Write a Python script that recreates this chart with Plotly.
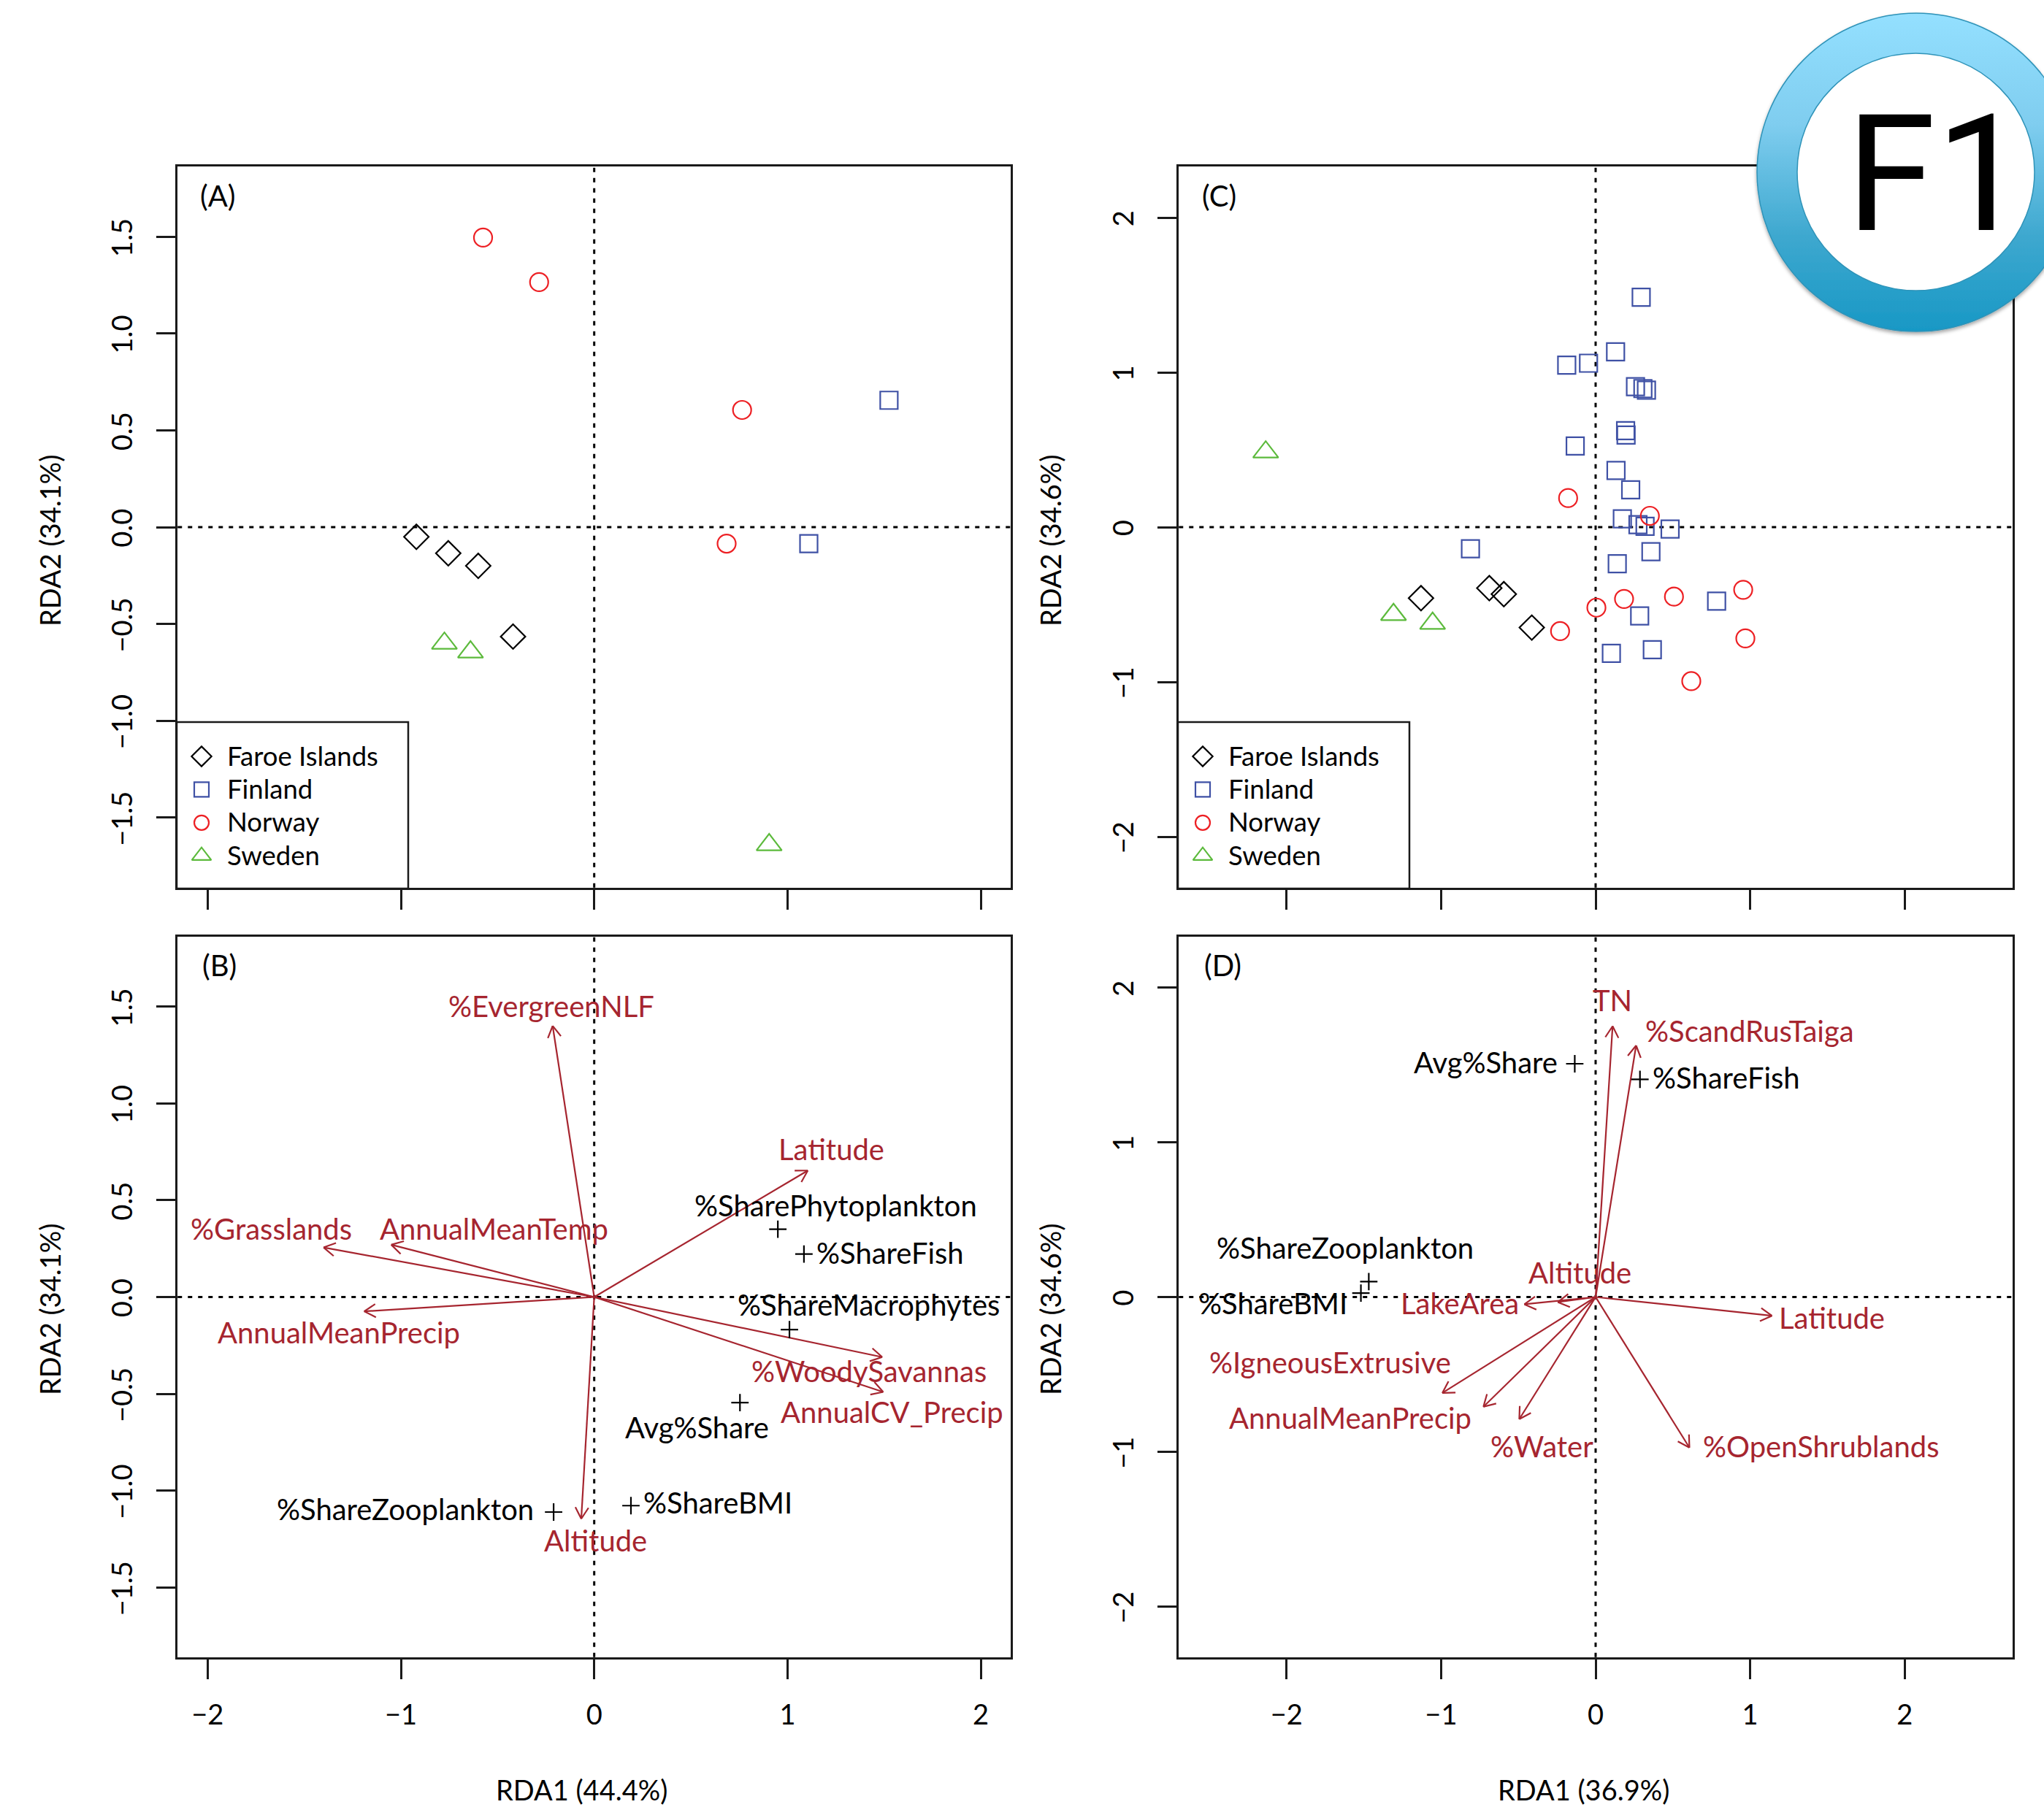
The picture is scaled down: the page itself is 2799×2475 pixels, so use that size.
import base64
import numpy as np
import plotly.graph_objects as go

# ---------- data ----------
A_faroe_x = [-0.92, -0.755, -0.60, -0.42]
A_faroe_y = [-0.05, -0.135, -0.20, -0.565]
A_finland_x = [1.525, 1.11]
A_finland_y = [0.655, -0.085]
A_norway_x = [-0.575, -0.285, 0.765, 0.685]
A_norway_y = [1.495, 1.265, 0.605, -0.085]
A_sweden_x = [-0.775, -0.64, 0.905]
A_sweden_y = [-0.60, -0.645, -1.64]

C_faroe_x = [-1.13, -0.688, -0.594, -0.413]
C_faroe_y = [-0.459, -0.394, -0.433, -0.649]
C_finland_x = [0.295, 0.129, -0.187, -0.046, 0.258, 0.306, 0.329, 0.194, 0.197, -0.132, 0.132, 0.227,
               0.173, 0.274, 0.320, 0.482, -0.81, 0.358, 0.14, 0.285, 0.783, 0.102, 0.367]
C_finland_y = [1.485, 1.133, 1.047, 1.059, 0.907, 0.895, 0.885, 0.623, 0.595, 0.524, 0.366, 0.241,
               0.054, 0.016, 0.005, -0.012, -0.14, -0.159, -0.236, -0.574, -0.478, -0.815, -0.792]
C_norway_x = [-0.178, 0.351, 0.184, 0.005, 0.507, 0.955, 0.969, -0.23, 0.619]
C_norway_y = [0.188, 0.073, -0.464, -0.52, -0.449, -0.405, -0.719, -0.672, -0.995]
C_sweden_x = [-2.135, -1.308, -1.055]
C_sweden_y = [0.485, -0.565, -0.622]

B_arrow_tip_x = [-0.215, 1.105, -1.40, -1.05, -1.19, 1.49, 1.495, -0.067]
B_arrow_tip_y = [1.40, 0.653, 0.256, 0.27, -0.074, -0.31, -0.49, -1.145]
B_red_names = ["%EvergreenNLF", "Latitude", "%Grasslands", "AnnualMeanTemp", "AnnualMeanPrecip",
               "%WoodySavannas", "AnnualCV_Precip", "Altitude"]
B_red_label_x = [-0.222, 1.226, -1.67, -0.518, -1.32, 1.42, 1.54, 0.007]
B_red_label_y = [1.495, 0.754, 0.343, 0.343, -0.189, -0.39, -0.60, -1.266]
B_plus_x = [0.95, 1.085, 1.01, 0.754, -0.21, 0.19]
B_plus_y = [0.35, 0.222, -0.168, -0.545, -1.11, -1.077]
B_black_names = ["%SharePhytoplankton", "%ShareFish", "%ShareMacrophytes", "Avg%Share",
                 "%ShareZooplankton", "%ShareBMI"]
B_black_label_x = [1.25, 1.53, 1.42, 0.532, -0.976, 0.64]
B_black_label_y = [0.465, 0.222, -0.047, -0.68, -1.104, -1.07]

D_arrow_tip_x = [0.11, 0.262, -0.245, -0.461, 1.141, -0.992, -0.726, -0.494, 0.607]
D_arrow_tip_y = [1.75, 1.625, -0.033, -0.047, -0.121, -0.62, -0.709, -0.789, -0.973]
D_red_names = ["TN", "%ScandRusTaiga", "Altitude", "LakeArea", "Latitude", "%IgneousExtrusive",
               "AnnualMeanPrecip", "%Water", "%OpenShrublands"]
D_red_label_x = [0.11, 0.996, -0.10, -0.878, 1.527, -1.72, -1.586, -0.346, 1.46]
D_red_label_y = [1.91, 1.709, 0.15, -0.05, -0.143, -0.43, -0.79, -0.976, -0.976]
D_plus_x = [0.287, -0.135, -1.468, -1.519]
D_plus_y = [1.406, 1.507, 0.10, 0.025]
D_black_names = ["%ShareFish", "Avg%Share", "%ShareZooplankton", "%ShareBMI"]
D_black_label_x = [0.844, -0.709, -1.62, -2.09]
D_black_label_y = [1.406, 1.507, 0.31, -0.05]

groups = ["Faroe Islands", "Finland", "Norway", "Sweden"]
x_title_A, x_title_C = "RDA1 (44.4%)", "RDA1 (36.9%)"
y_title_A, y_title_C = "RDA2 (34.1%)", "RDA2 (34.6%)"

# ---------- layout constants (page pixels) ----------
W, H = 2799, 2475
FONT = "Lato"
FS = 36.5
LABEL_FS = 40
AXIS_FS = 38
INK = "#1a1a1a"
LW = 2.5
DARKRED = "#A6252F"
COL = {"Faroe Islands": "#000000", "Finland": "#3F51A5", "Norway": "#ED2024", "Sweden": "#5CBA3C"}
SYM = {"Faroe Islands": "diamond-open", "Finland": "square-open", "Norway": "circle-open", "Sweden": "triangle-up-open"}
SIZE = {"Faroe Islands": 26, "Finland": 24, "Norway": 25, "Sweden": 30}
LEG_SIZE = {"Faroe Islands": 21, "Finland": 20, "Norway": 20, "Sweden": 23}


def px(p):
    return p / W


def py(p):
    return 1 - p / H


P = {
    "A": dict(ax="", l=242, r=1385, t=227, b=1217, x0=813.7, y0=722, sx=264.7, sy=265.3),
    "C": dict(ax="2", l=1613, r=2757, t=227, b=1217, x0=2185, y0=722, sx=211.6, sy=212),
    "B": dict(ax="3", l=242, r=1385, t=1282, b=2271, x0=813.7, y0=1776.5, sx=264.7, sy=265.3),
    "D": dict(ax="4", l=1613, r=2757, t=1282, b=2271, x0=2185, y0=1776.5, sx=211.6, sy=212),
}
# plotly draws axis lines just outside the plot area, so the plot area sits half a line inside the box
for p in P.values():
    p["l"] += LW / 2
    p["r"] -= LW / 2
    p["t"] += LW / 2
    p["b"] -= LW / 2

fig = go.Figure()
shapes, annotations = [], []


def ref(k):
    return dict(xaxis="x" + P[k]["ax"], yaxis="y" + P[k]["ax"])


def label(k, txt, x, y, color):
    annotations.append(dict(text=txt, x=x, y=y, xref="x" + P[k]["ax"], yref="y" + P[k]["ax"], showarrow=False,
                            xanchor="center", yanchor="middle", yshift=2,
                            font=dict(family=FONT, size=LABEL_FS, color=color)))


def page_text(txt, x, y, size=FS, angle=0, family=FONT, color="#000000", xanchor="center"):
    annotations.append(dict(text=txt, x=px(x), y=py(y), xref="paper", yref="paper", showarrow=False, textangle=angle,
                            xanchor=xanchor, yanchor="middle", font=dict(family=family, size=size, color=color)))


def zero_lines(k):
    p = P[k]
    xr, yr = "x" + p["ax"], "y" + p["ax"]
    st = dict(color="#000000", width=3, dash="6px,8px")
    shapes.append(dict(type="line", xref=xr, yref=yr + " domain", x0=0, x1=0, y0=0, y1=1, line=st, layer="below"))
    shapes.append(dict(type="line", xref=xr + " domain", yref=yr, x0=0, x1=1, y0=0, y1=0, line=st, layer="below"))


def points(k, name, xs, ys):
    fig.add_trace(go.Scatter(x=xs, y=ys, mode="markers", name=name, showlegend=False, **ref(k),
                             marker=dict(symbol=SYM[name], size=SIZE[name], color=COL[name],
                                         line=dict(width=2.2, color=COL[name]))))


def legend_block(k):
    p = P[k]
    left, top, right, bottom = p["l"] - LW / 2, 989, p["l"] - LW / 2 + 317, 1217
    shapes.append(dict(type="rect", xref="paper", yref="paper", x0=px(left), x1=px(right), y0=py(bottom), y1=py(top),
                       line=dict(color=INK, width=2.5), fillcolor="rgba(0,0,0,0)"))
    for i, g in enumerate(groups):
        yp = 1036 + i * 45.4
        fig.add_trace(go.Scatter(x=[(left + 34 - p["x0"]) / p["sx"]], y=[(p["y0"] - yp) / p["sy"]], mode="markers",
                                 name=g, showlegend=False, **ref(k),
                                 marker=dict(symbol=SYM[g], size=LEG_SIZE[g], color=COL[g],
                                             line=dict(width=2.2, color=COL[g]))))
        page_text(g, left + 67, yp - 1.5, xanchor="left")


def arrows(k, tip_x, tip_y):
    p = P[k]
    xs, ys = [], []
    for tx, ty in zip(tip_x, tip_y):
        xs += [0, tx, None]
        ys += [0, ty, None]
        ang = np.arctan2(ty * p["sy"], tx * p["sx"])
        for d in (-np.pi / 6, np.pi / 6):
            hx = tx - 18 * np.cos(ang + d) / p["sx"]
            hy = ty - 18 * np.sin(ang + d) / p["sy"]
            xs += [hx, tx, None]
            ys += [hy, ty, None]
    fig.add_trace(go.Scatter(x=xs, y=ys, mode="lines", showlegend=False, name="environment", **ref(k),
                             line=dict(color=DARKRED, width=2.2), connectgaps=False))


def pluses(k, xs, ys):
    fig.add_trace(go.Scatter(x=xs, y=ys, mode="markers", showlegend=False, name="response", **ref(k),
                             marker=dict(symbol="cross-thin-open", size=17, color="#000000",
                                         line=dict(width=2.2, color="#000000"))))


for k in "ACBD":
    zero_lines(k)

for k, data in (("A", [(A_faroe_x, A_faroe_y), (A_finland_x, A_finland_y), (A_norway_x, A_norway_y), (A_sweden_x, A_sweden_y)]),
                ("C", [(C_faroe_x, C_faroe_y), (C_finland_x, C_finland_y), (C_norway_x, C_norway_y), (C_sweden_x, C_sweden_y)])):
    for g, (xs, ys) in zip(groups, data):
        points(k, g, xs, ys)
    legend_block(k)

arrows("B", B_arrow_tip_x, B_arrow_tip_y)
pluses("B", B_plus_x, B_plus_y)
arrows("D", D_arrow_tip_x, D_arrow_tip_y)
pluses("D", D_plus_x, D_plus_y)

for n, x, y in zip(B_red_names, B_red_label_x, B_red_label_y):
    label("B", n, x, y, DARKRED)
for n, x, y in zip(B_black_names, B_black_label_x, B_black_label_y):
    label("B", n, x, y, "#000000")
for n, x, y in zip(D_red_names, D_red_label_x, D_red_label_y):
    label("D", n, x, y, DARKRED)
for n, x, y in zip(D_black_names, D_black_label_x, D_black_label_y):
    label("D", n, x, y, "#000000")

# panel tags and axis titles
page_text("(A)", 298, 268, size=LABEL_FS)
page_text("(C)", 1669, 268, size=LABEL_FS)
page_text("(B)", 300, 1322, size=LABEL_FS)
page_text("(D)", 1674, 1322, size=LABEL_FS)
page_text(y_title_A, 68, 741, size=AXIS_FS, angle=-90)
page_text(y_title_C, 1438, 741, size=AXIS_FS, angle=-90)
page_text(y_title_A, 68, 1794, size=AXIS_FS, angle=-90)
page_text(y_title_C, 1438, 1794, size=AXIS_FS, angle=-90)
page_text(x_title_A, 796, 2451, size=AXIS_FS)
page_text(x_title_C, 2168, 2451, size=AXIS_FS)

layout_axes = {}
for k, p in P.items():
    bottom_row = k in "BD"
    x_range = [(p["l"] - p["x0"]) / p["sx"], (p["r"] - p["x0"]) / p["sx"]]
    y_range = [(p["y0"] - p["b"]) / p["sy"], (p["y0"] - p["t"]) / p["sy"]]
    common = dict(showline=True, mirror=True, linecolor=INK, linewidth=LW, ticks="outside", ticklen=27, tickwidth=2.5,
                  tickcolor=INK, showgrid=False, zeroline=False, fixedrange=True,
                  tickfont=dict(family=FONT, size=AXIS_FS, color="#000000"))
    layout_axes["xaxis" + p["ax"]] = dict(common, domain=[px(p["l"]), px(p["r"])], range=x_range, tickmode="array",
                                          tickvals=[-2, -1, 0, 1, 2], ticktext=["\u22122", "\u22121", "0", "1", "2"],
                                          showticklabels=bottom_row, anchor="y" + p["ax"], ticklabelstandoff=17)
    if k in "AB":
        yv = [-1.5, -1.0, -0.5, 0.0, 0.5, 1.0, 1.5]
        yt = ["\u22121.5", "\u22121.0", "\u22120.5", "0.0", "0.5", "1.0", "1.5"]
    else:
        yv = [-2, -1, 0, 1, 2]
        yt = ["\u22122", "\u22121", "0", "1", "2"]
    layout_axes["yaxis" + p["ax"]] = dict(common, domain=[py(p["b"]), py(p["t"])], range=y_range, tickmode="array",
                                          tickvals=yv, ticktext=yt, tickangle=-90, anchor="x" + p["ax"],
                                          ticklabelstandoff=17, ticklabelshift=7)

# F1 badge
svg = """<svg xmlns='http://www.w3.org/2000/svg' width='500' height='480' viewBox='2350 0 500 480'>
<defs><linearGradient id='g' x1='0' y1='0' x2='0' y2='1'>
<stop offset='0' stop-color='#94E0FF'/><stop offset='0.35' stop-color='#7FCDEF'/>
<stop offset='0.7' stop-color='#3EA8CF'/><stop offset='1' stop-color='#1898C5'/></linearGradient>
<filter id='s' x='-10%' y='-10%' width='120%' height='120%'><feDropShadow dx='0' dy='3' stdDeviation='2.5' flood-color='#000' flood-opacity='0.35'/></filter></defs>
<circle cx='2624' cy='236' r='218' fill='url(#g)' stroke='#2F93B8' stroke-width='1.5' filter='url(#s)'/>
<circle cx='2623.5' cy='235.5' r='162.5' fill='#FFFFFF' stroke='#2F93B8' stroke-width='1.5'/>
</svg>"""
badge = "data:image/svg+xml;base64," + base64.b64encode(svg.encode()).decode()
images = [dict(source=badge, xref="paper", yref="paper", x=px(2350), y=py(0), sizex=500 / W, sizey=480 / H,
               xanchor="left", yanchor="top", sizing="stretch", layer="above")]
page_text("F1", 2651, 239, size=222, family="Roboto")

fig.update_layout(width=W, height=H, margin=dict(l=0, r=0, t=0, b=0), paper_bgcolor="white", plot_bgcolor="white",
                  showlegend=False, shapes=shapes, annotations=annotations, images=images, **layout_axes)

fig.write_html("out.html", default_width=f"{W}px", default_height=f"{H}px", config={"displayModeBar": False},
               post_script="document.body.style.margin='0';document.documentElement.style.overflow='hidden';")
